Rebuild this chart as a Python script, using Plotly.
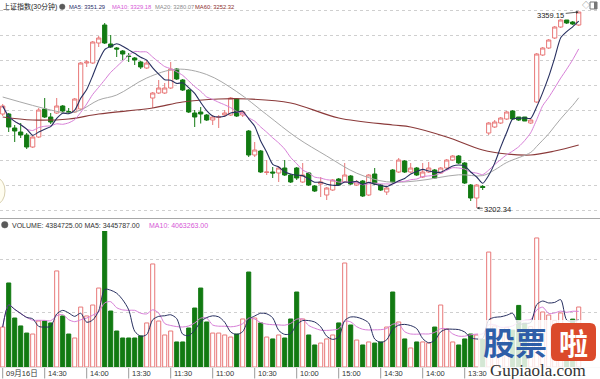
import numpy as np
import pandas as pd
import plotly.graph_objects as go

W, H = 600, 379

# ---------------- data ----------------
open_ = [3277.55, 3277.55, 3266.35, 3263.15, 3260.75, 3251.15, 3259.15, 3281.55, 3275.15, 3278.35,
         3283.95, 3279.55, 3279.15, 3281.55, 3318.35, 3318.35, 3334.35, 3348.75, 3333.55, 3330.35,
         3327.95, 3323.95, 3322.35, 3319.15, 3314.35, 3290.35, 3294.35, 3294.35, 3298.35, 3313.55,
         3304.75, 3296.75, 3278.35, 3279.15, 3276.75, 3272.75, 3274.75, 3276.75, 3276.75, 3289.55,
         3276.75, 3263.95, 3244.75, 3247.95, 3230.75, 3231.15, 3230.35, 3234.35, 3228.75, 3234.35,
         3223.15, 3230.35, 3219.95, 3221.55, 3212.75, 3216.75, 3225.55, 3223.15, 3227.95, 3220.75,
         3223.95, 3212.75, 3229.55, 3220.75, 3215.15, 3232.75, 3231.15, 3239.95, 3231.15, 3234.35,
         3227.15, 3231.15, 3232.75, 3230.35, 3234.35, 3240.75, 3243.95, 3238.35, 3220.75, 3210.35,
         3219.55, 3262.35, 3267.15, 3270.35, 3273.55, 3279.95, 3275.15, 3275.15, 3270.35, 3287.15,
         3324.75, 3330.35, 3338.35, 3347.15, 3352.75, 3351.15, 3348.75]
close = [3283.95, 3267.15, 3263.95, 3260.75, 3251.15, 3259.15, 3280.75, 3275.15, 3271.15, 3283.95,
         3279.95, 3278.75, 3289.55, 3318.35, 3319.15, 3335.15, 3338.35, 3334.35, 3331.15, 3329.55,
         3325.55, 3323.55, 3320.75, 3315.15, 3318.35, 3294.35, 3298.35, 3298.35, 3313.55, 3305.55,
         3296.75, 3279.15, 3275.15, 3277.55, 3272.75, 3275.15, 3275.15, 3278.35, 3290.35, 3275.95,
         3279.15, 3244.75, 3248.75, 3231.15, 3231.15, 3230.35, 3234.35, 3228.75, 3223.15, 3226.35,
         3228.75, 3220.75, 3215.95, 3223.15, 3218.35, 3224.75, 3220.75, 3228.75, 3221.55, 3223.15,
         3211.95, 3228.75, 3221.55, 3216.75, 3218.35, 3223.15, 3240.75, 3231.15, 3234.35, 3228.75,
         3231.15, 3234.35, 3226.35, 3234.35, 3240.75, 3243.95, 3238.35, 3222.35, 3210.35, 3220.75,
         3218.75, 3270.35, 3271.15, 3274.35, 3279.15, 3273.55, 3272.75, 3271.95, 3272.75, 3325.55,
         3330.35, 3336.75, 3347.15, 3352.75, 3350.35, 3349.55, 3359.15]
high = [3285.55, 3278.35, 3268.75, 3270.35, 3262.35, 3259.95, 3282.35, 3290.35, 3278.35, 3290.35,
        3284.75, 3282.35, 3290.35, 3319.15, 3320.75, 3335.95, 3339.95, 3350.35, 3340.75, 3331.15,
        3328.75, 3326.35, 3323.15, 3319.95, 3320.75, 3295.15, 3304.75, 3302.35, 3319.15, 3314.35,
        3305.55, 3297.55, 3280.75, 3283.15, 3277.55, 3276.75, 3276.75, 3280.75, 3291.15, 3290.35,
        3280.75, 3264.75, 3255.15, 3248.75, 3240.75, 3235.15, 3235.95, 3240.75, 3229.55, 3235.15,
        3238.35, 3231.15, 3220.75, 3227.15, 3219.15, 3225.55, 3226.35, 3238.35, 3228.75, 3224.75,
        3224.75, 3229.55, 3234.35, 3221.55, 3219.15, 3233.55, 3242.35, 3240.75, 3238.35, 3235.15,
        3238.35, 3239.15, 3233.55, 3235.15, 3241.55, 3244.75, 3244.75, 3239.15, 3221.55, 3221.55,
        3220.75, 3271.15, 3272.75, 3275.15, 3279.95, 3280.75, 3275.15, 3275.15, 3273.55, 3326.35,
        3331.15, 3337.55, 3347.95, 3353.55, 3352.75, 3351.95, 3359.15]
low = [3275.95, 3263.15, 3255.15, 3258.35, 3249.55, 3250.35, 3258.35, 3274.35, 3269.55, 3277.55,
       3278.35, 3277.55, 3278.35, 3280.75, 3315.15, 3317.55, 3331.15, 3333.55, 3330.35, 3323.15,
       3320.75, 3319.15, 3316.75, 3313.55, 3313.55, 3282.35, 3293.55, 3293.55, 3297.55, 3304.75,
       3295.95, 3278.35, 3267.15, 3269.95, 3271.95, 3268.75, 3266.35, 3275.15, 3275.95, 3275.15,
       3275.15, 3243.15, 3243.15, 3230.35, 3228.75, 3226.35, 3223.15, 3227.95, 3222.35, 3224.75,
       3222.35, 3219.95, 3215.15, 3211.15, 3208.75, 3215.95, 3219.95, 3222.35, 3220.75, 3219.95,
       3211.15, 3211.95, 3220.75, 3215.95, 3212.75, 3222.35, 3230.35, 3230.35, 3230.35, 3227.95,
       3226.35, 3230.35, 3225.55, 3229.55, 3233.55, 3239.95, 3237.55, 3221.55, 3207.95, 3202.34,
       3216.75, 3260.75, 3266.35, 3269.55, 3272.75, 3272.75, 3271.95, 3271.95, 3269.55, 3286.35,
       3323.95, 3329.55, 3337.55, 3346.35, 3349.55, 3348.75, 3347.95]
volume = [2920000, 6140000, 3580000, 3000000, 2480000, 2410000, 3360000, 3360000, 3220000, 7020000,
          3730000, 2410000, 2120000, 4380000, 3730000, 4530000, 5770000, 9940000, 4090000, 2630000,
          2120000, 2120000, 2120000, 2270000, 3220000, 7530000, 3360000, 2340000, 2630000, 1830000,
          1830000, 2850000, 4310000, 5770000, 3290000, 2480000, 2480000, 2340000, 2190000, 2410000,
          3510000, 6940000, 3580000, 3220000, 2190000, 2050000, 2340000, 2120000, 3510000, 5480000,
          3510000, 2340000, 1610000, 1750000, 2050000, 2340000, 3220000, 7600000, 3070000, 1970000,
          1610000, 1830000, 1750000, 1830000, 2920000, 5480000, 3290000, 2050000, 1390000, 1830000,
          1830000, 1750000, 2920000, 4530000, 2780000, 1830000, 1610000, 2050000, 2410000, 2340000,
          2000000, 8400000, 3000000, 2600000, 2900000, 2700000, 4500000, 3200000, 2950000, 9430000,
          4020000, 3800000, 3400000, 3950000, 2000000, 3500000, 4384725]

ma20_idx = [0, 8, 11, 13, 16, 19, 24, 29, 34, 39, 44, 49, 54, 59, 64, 69, 76, 80, 82, 84, 88, 89, 90, 91, 92, 93, 94, 95, 96]
ma20_val = [3291.15, 3280.75, 3278.35, 3280.75, 3288.75, 3292.75, 3306.35, 3313.39, 3309.15, 3295.47,
            3277.07, 3258.67, 3243.95, 3230.19, 3223.31, 3224.03, 3228.91, 3228.27, 3232.83, 3238.75,
            3246.83, 3251.63, 3256.59, 3261.71, 3267.79, 3273.71, 3279.15, 3284.43, 3290.51]
ma60_idx = [0, 5, 11, 16, 25, 30, 36, 41, 48, 56, 65, 68, 74, 80, 84, 88, 92, 96]
ma60_val = [3275.15, 3272.75, 3273.55, 3277.55, 3282.35, 3287.15, 3289.55, 3289.55, 3286.35, 3274.35,
            3268.75, 3267.15, 3259.15, 3248.75, 3245.55, 3244.75, 3247.95, 3252.75]

tick_pos = [0, 7, 14, 21, 28, 35, 42, 49, 56, 63, 70, 77]
tick_labels = ["09月16日", "14:30", "14:00", "13:30", "11:30", "11:00", "10:30", "10:00",
               "15:00", "14:30", "14:00", "13:30"]

title_main = "上证指数(30分钟)"
ma_labels = [("MA5: 3351.29", "#2b2f6b", 67), ("MA10: 3329.18", "#d657d6", 110),
             ("MA20: 3280.07", "#8c8c8c", 153), ("MA60: 3252.32", "#8b2d2d", 193)]

# ---------------- styling ----------------
UP = "#e87878"
DN = "#127a12"
C_MA5 = "#283060"
C_MA10 = "#d77ed7"
C_MA20 = "#a8a8a8"
C_MA60 = "#8b3a3a"
FONT = "Liberation Sans, Noto Sans CJK SC, sans-serif"

n = len(close)
idx = np.arange(n)
cl = pd.Series(close)
ma5 = cl.rolling(5, min_periods=1).mean()
ma10 = cl.rolling(10, min_periods=1).mean()
vs = pd.Series(volume, dtype=float)
vma5 = vs.rolling(5, min_periods=1).mean()
vma10 = vs.rolling(10, min_periods=1).mean()

is_up = [c >= o for o, c in zip(open_, close)]

PX_PER_PT = 1.25
P_TOP = 3368.75
P_BOT = P_TOP - 216 / PX_PER_PT
VOL_PER_PX = 73079
VOL_TOP = 136 * VOL_PER_PX


def yp(pix):
    return 1 - pix / H


fig = go.Figure()

fig.add_trace(go.Candlestick(
    x=idx, open=open_, high=high, low=low, close=close,
    increasing=dict(line=dict(color=UP, width=1), fillcolor="white"),
    decreasing=dict(line=dict(color=DN, width=1), fillcolor=DN),
    whiskerwidth=0, showlegend=False, hoverinfo="skip", xaxis="x", yaxis="y"))

line_kw = dict(mode="lines", showlegend=False, hoverinfo="skip", xaxis="x", yaxis="y")
fig.add_trace(go.Scatter(x=ma60_idx, y=ma60_val, line=dict(color=C_MA60, width=1.2, shape="spline", smoothing=1), **line_kw))
fig.add_trace(go.Scatter(x=ma20_idx, y=ma20_val, line=dict(color=C_MA20, width=1, shape="spline", smoothing=1), **line_kw))
fig.add_trace(go.Scatter(x=idx, y=ma10, line=dict(color=C_MA10, width=1, shape="spline", smoothing=0.6), **line_kw))
fig.add_trace(go.Scatter(x=idx, y=ma5, line=dict(color=C_MA5, width=1.1, shape="spline", smoothing=0.6), **line_kw))

fig.add_trace(go.Bar(
    x=idx, y=volume, width=0.68,
    marker=dict(color=["white" if u else DN for u in is_up],
                line=dict(color=[UP if u else DN for u in is_up], width=1)),
    showlegend=False, hoverinfo="skip", xaxis="x2", yaxis="y2"))
vkw = dict(mode="lines", showlegend=False, hoverinfo="skip", xaxis="x2", yaxis="y2")
fig.add_trace(go.Scatter(x=idx, y=vma10, line=dict(color=C_MA10, width=1, shape="spline", smoothing=0.8), **vkw))
fig.add_trace(go.Scatter(x=idx, y=vma5, line=dict(color=C_MA5, width=1, shape="spline", smoothing=0.8), **vkw))

xr = [-0.45, (W - 2.7) / 6]
axis_common = dict(showticklabels=False, zeroline=False, showline=False, fixedrange=True)
fig.update_layout(
    width=W, height=H, margin=dict(l=0, r=0, t=0, b=0),
    paper_bgcolor="white", plot_bgcolor="white",
    boxgap=0.3, boxgroupgap=0, bargap=0,
    xaxis=dict(domain=[0, 1], range=xr, anchor="y", showgrid=False, rangeslider=dict(visible=False), **axis_common),
    xaxis2=dict(domain=[0, 1], range=xr, anchor="y2", showgrid=False, **axis_common),
    yaxis=dict(domain=[yp(216), 1], range=[P_BOT, P_TOP], tick0=3200.75, dtick=20,
               showgrid=True, gridcolor="#cfcfcf", gridwidth=1, griddash="dot", **axis_common),
    yaxis2=dict(domain=[yp(367), yp(231)], range=[0, VOL_TOP], tickmode="array",
                tickvals=[55 * VOL_PER_PX, 108 * VOL_PER_PX],
                showgrid=True, gridcolor="#cfcfcf", gridwidth=1, griddash="dot", **axis_common),
    font=dict(family=FONT, size=7, color="#333"),
)

shapes = []
shapes.append(dict(type="line", xref="paper", yref="paper", x0=0, x1=1, y0=yp(218.5), y1=yp(218.5),
                   line=dict(color="#a8a8a8", width=1)))
shapes.append(dict(type="line", xref="paper", yref="paper", x0=0, x1=1, y0=yp(367.5), y1=yp(367.5),
                   line=dict(color="#e0e0e0", width=1)))
for tp in tick_pos:
    shapes.append(dict(type="line", xref="x2", yref="paper", x0=tp, x1=tp, y0=yp(368), y1=yp(378.5),
                       line=dict(color="#9a9a9a", width=1)))
shapes.append(dict(type="circle", xref="paper", yref="paper", x0=59.5 / W, x1=65 / W, y0=yp(9.5), y1=yp(4),
                   fillcolor="#5a5a5a", line=dict(color="#5a5a5a", width=0.5)))
shapes.append(dict(type="circle", xref="paper", yref="paper", x0=1.5 / W, x1=8 / W, y0=yp(228), y1=yp(221.5),
                   fillcolor="#5a5a5a", line=dict(color="#5a5a5a", width=0.5)))
shapes.append(dict(type="circle", xref="paper", yref="paper", x0=-12 / W, x1=5 / W, y0=yp(204), y1=yp(178),
                   fillcolor="#fffdf0", line=dict(color="#d8d0b0", width=1)))
shapes.append(dict(type="rect", xref="paper", yref="paper", x0=590 / W, x1=597 / W, y0=yp(9), y1=yp(2),
                   fillcolor="white", line=dict(color="#777", width=1)))
shapes.append(dict(type="rect", xref="paper", yref="paper", x0=594 / W, x1=597 / W, y0=yp(9), y1=yp(2),
                   fillcolor="#777", line=dict(color="#777", width=0)))
shapes.append(dict(type="rect", xref="paper", yref="paper", x0=478 / W, x1=1, y0=0, y1=yp(320),
                   fillcolor="rgba(255,255,255,0.82)", line=dict(width=0), layer="above"))
rx0, rx1, ry0, ry1, r = 551, 596, 323, 361, 6
path = (f"M {rx0 + r},{ry0} L {rx1 - r},{ry0} Q {rx1},{ry0} {rx1},{ry0 + r} L {rx1},{ry1 - r} "
        f"Q {rx1},{ry1} {rx1 - r},{ry1} L {rx0 + r},{ry1} Q {rx0},{ry1} {rx0},{ry1 - r} "
        f"L {rx0},{ry0 + r} Q {rx0},{ry0} {rx0 + r},{ry0} Z")


def conv_path(p):
    out = []
    for tok in p.split(" "):
        if "," in tok:
            a, b = tok.split(",")
            out.append(f"{float(a) / W:.5f},{yp(float(b)):.5f}")
        else:
            out.append(tok)
    return " ".join(out)


shapes.append(dict(type="path", xref="paper", yref="paper", path=conv_path(path),
                   fillcolor="#db4a2b", line=dict(width=0), layer="above"))

annotations = []


def txt(x, y, s, color="#333", size=7, xanchor="left", family=FONT, **kw):
    annotations.append(dict(xref="paper", yref="paper", x=x / W, y=yp(y), text=s, showarrow=False,
                            xanchor=xanchor, yanchor="middle", font=dict(size=size, color=color, family=family),
                            **kw))


txt(1, 6.5, title_main, color="#222", size=7)
for s, c, x0 in ma_labels:
    txt(x0, 6.8, s, color=c, size=5.8)
txt(10, 225, "VOLUME: 4384725.00 MA5: 3445787.00", color="#333")
txt(147, 225, "MA10: 4063263.00", color="#d657d6")
txt(580, 5.5, "◇", color="#777", size=8)
for tp, lab in zip(tick_pos, tick_labels):
    annotations.append(dict(xref="x2", yref="paper", x=tp + 0.25, y=yp(373.5), text=lab, showarrow=False,
                            xanchor="left", yanchor="middle", font=dict(size=7.5, color="#333", family=FONT)))

imax = int(np.argmax(high))
imin = int(np.argmin(low))
annotations.append(dict(xref="x", yref="y", x=imax, y=high[imax], text=f"{high[imax]:.2f}",
                        showarrow=True, arrowhead=2, arrowsize=0.7, arrowwidth=0.8, arrowcolor="#333",
                        ax=-28, ay=3, font=dict(size=7.5, color="#222", family=FONT)))
annotations.append(dict(xref="x", yref="y", x=imin, y=low[imin], text=f"{low[imin]:.2f}",
                        showarrow=True, arrowhead=2, arrowsize=0.7, arrowwidth=0.8, arrowcolor="#333",
                        ax=21, ay=1, font=dict(size=7.5, color="#222", family=FONT)))

txt(515, 341, "<b>股票</b>", color="#2f5ea8", size=32, xanchor="center", family="Noto Sans CJK SC")
txt(573.5, 342, "<b>啦</b>", color="white", size=29, xanchor="center", family="Noto Sans CJK SC")
txt(538, 370, "Gupiaola.com", color="#333", size=17, xanchor="center", family="Liberation Serif, DejaVu Serif, serif")

fig.update_layout(shapes=shapes, annotations=annotations)
fig.write_html("out.html", config={"displayModeBar": False, "staticPlot": True},
               post_script="document.body.style.margin='0';document.body.style.overflow='hidden';")
